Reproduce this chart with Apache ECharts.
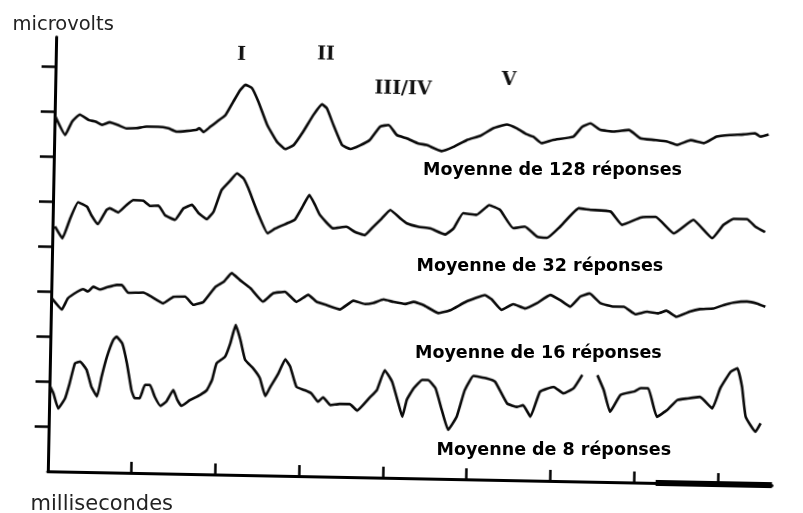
<!DOCTYPE html>
<html><head><meta charset="utf-8">
<script src="https://cdn.jsdelivr.net/npm/echarts@6/dist/echarts.min.js"></script>
<style>
html,body{margin:0;padding:0;background:#fff;overflow:hidden;width:803px;height:513px}
#c,#t{position:absolute;left:0;top:0;width:803px;height:513px}
#c{transform:rotate(1.1deg);transform-origin:50% 50%}
</style></head>
<body><div id="c"></div><div id="t"></div>
<script>
// time (ms) vs amplitude (µV, each trace drawn with its own offset)
var trace128 = [[0.01,7.88],[0.13,7.48],[0.21,7.78],[0.30,7.94],[0.41,7.82],[0.49,7.79],[0.57,7.72],[0.66,7.78],[0.76,7.72],[0.86,7.65],[0.98,7.66],[1.10,7.70],[1.24,7.70],[1.36,7.67],[1.46,7.60],[1.58,7.62],[1.70,7.65],[1.73,7.69],[1.78,7.60],[1.86,7.72],[1.94,7.84],[2.04,7.99],[2.13,8.29],[2.21,8.55],[2.27,8.67],[2.35,8.60],[2.43,8.30],[2.54,7.79],[2.66,7.42],[2.76,7.26],[2.86,7.35],[2.97,7.65],[3.09,8.03],[3.19,8.27],[3.25,8.18],[3.33,7.82],[3.44,7.37],[3.54,7.29],[3.65,7.37],[3.77,7.50],[3.89,7.80],[3.99,7.84],[4.09,7.62],[4.21,7.55],[4.35,7.44],[4.45,7.41],[4.63,7.28],[4.77,7.38],[4.93,7.54],[5.09,7.64],[5.24,7.81],[5.40,7.90],[5.52,7.82],[5.64,7.69],[5.72,7.64],[5.82,7.50],[5.96,7.58],[6.20,7.66],[6.30,7.88],[6.40,7.96],[6.52,7.82],[6.68,7.79],[6.86,7.83],[7.00,7.65],[7.16,7.62],[7.32,7.59],[7.44,7.52],[7.60,7.63],[7.76,7.57],[7.91,7.72],[8.07,7.76],[8.23,7.78],[8.37,7.81],[8.43,7.74],[8.53,7.79]];
var trace32 = [[0.03,5.44],[0.12,5.18],[0.21,5.63],[0.30,5.99],[0.41,5.89],[0.46,5.71],[0.54,5.51],[0.64,5.83],[0.68,5.87],[0.78,5.78],[0.88,5.95],[0.96,6.06],[1.08,6.05],[1.16,5.94],[1.26,5.95],[1.34,5.74],[1.46,5.64],[1.56,5.90],[1.66,5.98],[1.74,5.80],[1.84,5.67],[1.92,5.84],[2.01,6.32],[2.11,6.53],[2.19,6.70],[2.27,6.59],[2.33,6.37],[2.45,5.82],[2.57,5.38],[2.66,5.49],[2.80,5.61],[2.89,5.69],[2.99,6.02],[3.06,6.25],[3.13,6.03],[3.19,5.81],[3.35,5.52],[3.51,5.56],[3.61,5.45],[3.73,5.38],[3.83,5.57],[3.93,5.76],[4.03,5.95],[4.15,5.77],[4.23,5.66],[4.37,5.59],[4.51,5.56],[4.69,5.43],[4.79,5.57],[4.90,5.91],[5.06,5.88],[5.21,6.10],[5.34,6.00],[5.50,5.60],[5.64,5.64],[5.79,5.42],[5.91,5.40],[6.06,5.65],[6.28,6.07],[6.42,6.04],[6.66,6.01],[6.80,5.72],[7.02,5.89],[7.20,5.91],[7.42,5.55],[7.65,5.86],[7.88,5.46],[8.01,5.76],[8.13,5.90],[8.29,5.90],[8.39,5.74],[8.51,5.62]];
var trace16 = [[0.01,3.84],[0.13,3.60],[0.20,3.85],[0.31,4.00],[0.38,4.06],[0.44,4.01],[0.50,4.12],[0.58,4.06],[0.66,4.11],[0.78,4.17],[0.84,4.17],[0.92,4.00],[1.10,4.01],[1.20,3.92],[1.34,3.78],[1.46,3.93],[1.60,3.94],[1.70,3.76],[1.82,3.83],[1.96,4.17],[2.06,4.29],[2.15,4.48],[2.25,4.33],[2.38,4.15],[2.53,3.86],[2.65,4.05],[2.79,4.09],[2.93,3.87],[3.07,4.03],[3.17,3.88],[3.29,3.81],[3.45,3.72],[3.61,3.92],[3.75,3.85],[3.85,3.88],[3.97,3.96],[4.09,3.91],[4.23,3.87],[4.33,3.92],[4.45,3.85],[4.63,3.68],[4.77,3.75],[4.96,3.95],[5.18,4.10],[5.26,4.01],[5.38,3.78],[5.52,3.91],[5.66,3.82],[5.80,3.94],[5.96,4.13],[6.08,4.02],[6.20,3.88],[6.32,4.11],[6.43,4.18],[6.56,3.97],[6.72,3.90],[6.84,3.90],[6.98,3.74],[7.12,3.80],[7.25,3.77],[7.35,3.83],[7.47,3.70],[7.63,3.82],[7.75,3.88],[7.91,3.90],[8.03,3.98],[8.15,4.04],[8.31,4.07],[8.43,4.03],[8.53,3.96]];
var trace8 = [[0.01,1.88],[0.05,1.73],[0.11,1.40],[0.19,1.63],[0.24,1.96],[0.30,2.41],[0.36,2.45],[0.44,2.27],[0.50,1.90],[0.57,1.68],[0.62,2.12],[0.68,2.57],[0.75,2.94],[0.79,3.02],[0.86,2.87],[0.92,2.43],[0.98,1.84],[1.02,1.66],[1.08,1.66],[1.14,1.96],[1.20,1.96],[1.26,1.70],[1.33,1.50],[1.40,1.60],[1.48,1.86],[1.53,1.64],[1.58,1.51],[1.68,1.64],[1.80,1.76],[1.88,1.87],[1.94,2.10],[1.99,2.47],[2.09,2.62],[2.15,2.92],[2.21,3.33],[2.27,3.00],[2.33,2.56],[2.43,2.37],[2.51,2.16],[2.58,1.76],[2.63,1.94],[2.73,2.27],[2.81,2.59],[2.87,2.43],[2.95,1.98],[3.05,1.91],[3.13,1.84],[3.21,1.66],[3.27,1.76],[3.36,1.59],[3.47,1.62],[3.59,1.62],[3.68,1.48],[3.83,1.78],[3.91,1.94],[4.00,2.39],[4.09,2.14],[4.17,1.66],[4.22,1.36],[4.27,1.74],[4.35,2.00],[4.45,2.19],[4.52,2.19],[4.61,2.01],[4.69,1.53],[4.77,1.09],[4.87,1.39],[4.96,1.98],[5.06,2.30],[5.22,2.25],[5.32,2.18],[5.47,1.70],[5.59,1.63],[5.66,1.67],[5.75,1.42],[5.86,1.98],[6.02,2.09],[6.14,1.95],[6.26,2.07],[6.36,2.37],[6.45,null],[6.54,2.37],[6.62,2.04],[6.70,1.56],[6.82,1.94],[6.98,2.02],[7.06,2.10],[7.15,2.10],[7.26,1.47],[7.38,1.62],[7.50,1.85],[7.62,1.89],[7.77,1.93],[7.92,1.68],[8.01,2.13],[8.13,2.50],[8.21,2.58],[8.27,2.17],[8.32,1.51],[8.44,1.18],[8.50,1.37]];
var xTicks = [1,2,3,4,5,6,7,8];
var yTicks = [1,2,3,4,5,6,7,8,9];
var scaleBar = [7.26, 8.65];
var waveNames = ['I','II','III/IV','V'];
var traceLabels = ['Moyenne de 128 réponses','Moyenne de 32 réponses','Moyenne de 16 réponses','Moyenne de 8 réponses'];
var yName = 'microvolts';
var xName = 'millisecondes';

// layout (pixels)
var wavePos = [[237.6,57.6],[322.1,56.0],[399.8,89.5],[505.6,78.4]];
var labelPos = [[423,170],[416.5,266.5],[415,353],[436.5,450.5]];

function txt(s, x, y, font, align, color){
  return {type:'text', x:x, y:y, silent:true,
    style:{text:s, font:font, fill:color||'#000', align:align||'left', verticalAlign:'middle',
           textAlign:align||'left', textVerticalAlign:'middle'}};
}

var lineStyle = {color:'#0a0a0a', width:2.6};
function mk(d){ return {type:'line', data:d, showSymbol:false, smooth:0.12, connectNulls:false,
   lineStyle:lineStyle, silent:true, clip:false}; }

var s0 = mk(trace128);
s0.markLine = {silent:true, symbol:['none','none'], label:{show:false},
  lineStyle:{color:'#000', width:6, type:'solid'},
  data:[[{coord:[scaleBar[0],0]},{coord:[scaleBar[1],0]}]]};

var c = echarts.init(document.getElementById('c'), null, {renderer:'canvas'});
c.setOption({
  animation:false,
  backgroundColor:'#fff',
  grid:{left:52, right:26.7, top:43.75, bottom:35, containLabel:false},
  xAxis:{type:'value', min:0, max:8.65, interval:1,
    axisLine:{show:true, lineStyle:{color:'#000', width:3}},
    axisTick:{show:true, inside:true, length:11, customValues:xTicks, lineStyle:{color:'#000', width:2.5}},
    axisLabel:{show:false}, splitLine:{show:false}},
  yAxis:{type:'value', min:0, max:9.65, interval:1,
    axisLine:{show:true, lineStyle:{color:'#000', width:3}},
    axisTick:{show:true, inside:false, length:14, customValues:yTicks, lineStyle:{color:'#000', width:2.5}},
    axisLabel:{show:false}, splitLine:{show:false}},
  series:[s0, mk(trace32), mk(trace16), mk(trace8)],
  graphic:waveNames.map(function(n,i){ return txt(n, wavePos[i][0], wavePos[i][1], 'bold 19px "DejaVu Serif"', 'center', '#111'); })
});

var t = echarts.init(document.getElementById('t'), null, {renderer:'canvas'});
var g = traceLabels.map(function(n,i){ return txt(n, labelPos[i][0], labelPos[i][1], 'bold 17.5px "DejaVu Sans"', 'left', '#000'); });
g.push(txt(yName, 12.5, 25, '19.5px "DejaVu Sans"', 'left', '#222'));
g.push(txt(xName, 30.5, 504.5, '21px "DejaVu Sans"', 'left', '#222'));
t.setOption({animation:false, graphic:g});
</script></body></html>
